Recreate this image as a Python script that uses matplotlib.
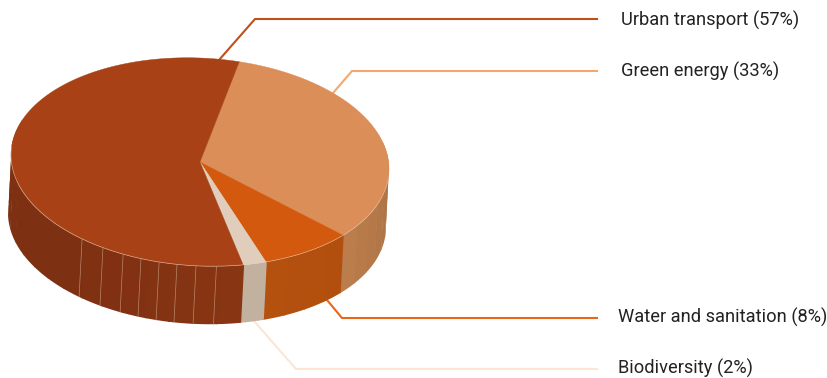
import numpy as np
import matplotlib
matplotlib.use('Agg')
import matplotlib.pyplot as plt
from matplotlib.colors import to_rgb
from matplotlib.patches import Polygon

labels = ['Urban transport', 'Green energy', 'Water and sanitation', 'Biodiversity']
values = [57, 33, 8, 2]

top_colors = ['#A84216', '#DB8E57', '#D2590D', '#E0CDBC']
# wall shade at the start and end of each slice, clockwise
wall_colors = [('#873512', '#7E3012'), ('#A86F43', '#BA7D4B'), ('#B24F0E', '#B5510F'), ('#C3B1A0', '#C3B1A0')]
line_colors = ['#BF4F1B', '#F4A76F', '#E8661A', '#FDE5D3']

# pie geometry in pixels
cx, cy = 200, 162
rx, ry = 189, 104
tilt = 0.037  # slope of the ellipse's long axis
wall_dx, wall_dy = -3, 58
start = 78  # degrees, where the first slice ends going counter-clockwise
step = 7.2  # wall facet width
seam_angles = [-85, -91.2, -97, -102.5, -108.2, -114, -120.9, -128.6]

# elbow lines: rim point, elbow, end
leaders = [[(219, 60), (255, 19), (597, 19)],
           [(333, 93), (352, 71), (597, 71)],
           [(327, 300), (342, 318), (597, 318)],
           [(254, 321), (296, 369), (597, 369)]]
label_pos = [(621, 20), (621, 71), (618, 317), (618, 368)]


def rim(a, dx=0, dy=0):
    a = np.radians(np.asarray(a, dtype=float))
    x = rx * np.cos(a)
    y = -ry * np.sin(a) + tilt * x
    return np.column_stack([cx + dx + x, cy + dy + y])


def mix(c1, c2, t):
    c1 = np.array(to_rgb(c1))
    c2 = np.array(to_rgb(c2))
    return c1 + (c2 - c1) * min(max(t, 0), 1)


fig = plt.figure(figsize=(8.28, 3.78), dpi=100)
ax = fig.add_axes([0, 0, 1, 1])
ax.set_xlim(0, 828)
ax.set_ylim(378, 0)
ax.axis('off')

for pts, c in zip(leaders, line_colors):
    xs, ys = zip(*pts)
    ax.plot(xs, ys, color=c, lw=1.5, solid_joinstyle='miter', zorder=1)

# slice angles, clockwise from the urban/green boundary
angles = [start]
for v in values[1:] + values[:1]:
    angles.append(angles[-1] - v * 3.6)
spans = {1: (angles[0], angles[1]), 2: (angles[1], angles[2]),
         3: (angles[2], angles[3]), 0: (angles[3], angles[4])}

# walls, from the two sides of the pie towards the front so facets overlap cleanly
facets = []
for i, (a0, a1) in spans.items():
    a0 = min(a0, 15)
    a1 = max(a1, -200)
    if a0 <= a1:
        continue
    n = max(int(round((a0 - a1) / step)), 1)
    edges = np.linspace(a0, a1, n + 1)
    for j in range(n):
        t = j / max(n - 1, 1)
        if i == 0:
            t = j / 7  # the urban wall settles to one shade past the seams
        facets.append((edges[j], edges[j + 1], mix(wall_colors[i][0], wall_colors[i][1], t)))
facets.sort(key=lambda f: -abs((f[0] + f[1]) / 2 + 90))
for a0, a1, col in facets:
    arc = np.linspace(a0 + 0.3, a1 - 0.3, 8)
    poly = np.vstack([rim(arc), rim(arc[::-1], wall_dx, wall_dy)])
    ax.add_patch(Polygon(poly, closed=True, fc=col, ec='none', zorder=2))

# facet seams on the urban wall
for seam in seam_angles:
    p = np.vstack([rim([seam]), rim([seam], wall_dx, wall_dy)])
    ax.plot(p[:, 0], p[:, 1], color='#B9876B', lw=0.5, zorder=3)

# top face
for i, (a0, a1) in spans.items():
    arc = np.linspace(a0, a1, 120)
    poly = np.vstack([[(cx, cy)], rim(arc)])
    ax.add_patch(Polygon(poly, closed=True, fc=top_colors[i], ec=top_colors[i], lw=0.3, zorder=4))

# light edge along the front of the top face
p = rim(np.linspace(-5, -185, 200))
ax.plot(p[:, 0], p[:, 1], color='#E8C9B0', lw=0.5, alpha=0.7, zorder=5)

for name, v, (x, y) in zip(labels, values, label_pos):
    ax.text(x, y, '%s (%d%%)' % (name, v), family='Roboto', fontsize=13.15,
            color='#222222', va='center', ha='left', zorder=6)

fig.savefig('out.png', dpi=100)
